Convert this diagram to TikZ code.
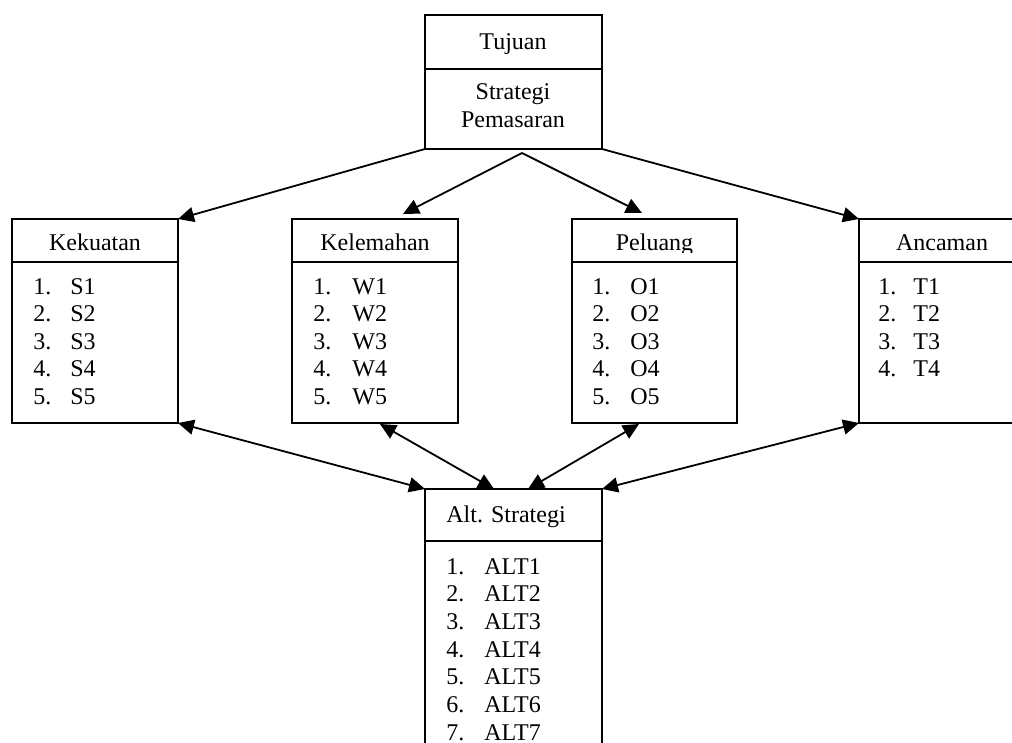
\documentclass[tikz,border=0pt]{standalone}
\usepackage{fontspec}
\setmainfont{Liberation Serif}
\usetikzlibrary{arrows.meta}
\begin{document}
\begin{tikzpicture}[x=0.5pt,y=-0.5pt,
  box/.style={draw,line width=1pt,rectangle,inner sep=0pt,outer sep=0pt,anchor=north west},
  lbl/.style={anchor=base,inner sep=0pt,font=\fontsize{12pt}{13.8pt}\selectfont},
  lbll/.style={lbl,anchor=base west},
  arr/.style={line width=0.9pt,-{Triangle[length=8pt,width=7.5pt]}},
  darr/.style={line width=0.9pt,{Triangle[length=8pt,width=7.5pt]}-{Triangle[length=8pt,width=7.5pt]}}]
\useasboundingbox (0,0) rectangle (1012,743);
\clip (0,0) rectangle (1012,743);
% top box
\node[box,minimum width=88.5pt,minimum height=27pt] (tuj) at (425,15) {};
\node[box,minimum width=88.5pt,minimum height=40pt] (strat) at (425,69) {};
\node[lbl] (tujT) at (513,50) {Tujuan};
\node[lbl] (stratT1) at (513,100) {Strategi};
\node[lbl] (stratT2) at (513,128) {Pemasaran};
% four boxes
\node[box,minimum width=83pt,minimum height=21.5pt] (kekH) at (12,219) {};
\node[box,minimum width=83pt,minimum height=80.5pt] (kekB) at (12,262) {};
\node[box,minimum width=83pt,minimum height=21.5pt] (kelH) at (292,219) {};
\node[box,minimum width=83pt,minimum height=80.5pt] (kelB) at (292,262) {};
\node[box,minimum width=82.5pt,minimum height=21.5pt] (pelH) at (572,219) {};
\node[box,minimum width=82.5pt,minimum height=80.5pt] (pelB) at (572,262) {};
\node[box,minimum width=83pt,minimum height=21.5pt] (ancH) at (859,219) {};
\node[box,minimum width=83pt,minimum height=80.5pt] (ancB) at (859,262) {};
\node[lbl] (kekT) at (95,251) {Kekuatan};
\node[lbl] (kelT) at (375,251) {Kelemahan};
\begin{scope}
\clip (572,219) rectangle (737,253);
\node[lbl] (pelT) at (654.5,251) {Peluang};
\end{scope}
\node[lbl] (ancT) at (942,251) {Ancaman};
\foreach \i in {1,...,5} {
  \node[lbll] (kn\i) at (33,{294+27.6*(\i-1)}) {\i.};
  \node[lbll] (ki\i) at (70,{294+27.6*(\i-1)}) {S\i};
  \node[lbll] (wn\i) at (313,{294+27.6*(\i-1)}) {\i.};
  \node[lbll] (wi\i) at (352,{294+27.6*(\i-1)}) {W\i};
  \node[lbll] (on\i) at (592,{294+27.6*(\i-1)}) {\i.};
  \node[lbll] (oi\i) at (630,{294+27.6*(\i-1)}) {O\i};
}
\foreach \i in {1,...,4} {
  \node[lbll] (tn\i) at (878,{294+27.6*(\i-1)}) {\i.};
  \node[lbll] (ti\i) at (913,{294+27.6*(\i-1)}) {T\i};
}
% bottom box
\node[box,minimum width=88.5pt,minimum height=26pt] (altH) at (425,489) {};
\node[box,minimum width=88.5pt,minimum height=130pt] (altB) at (425,541) {};
\node[lbll] (altT) at (446,522) {Alt. Strategi};
\foreach \i in {1,...,7} {
  \node[lbll] (an\i) at (446,{574+27.7*(\i-1)}) {\i.};
  \node[lbll] (ai\i) at (484,{574+27.7*(\i-1)}) {ALT\i};
}
% connectors
\coordinate (sm) at (522,153);
\coordinate (kelTop) at (403,214);
\coordinate (pelTop) at (642,213);
\coordinate (kelBot) at (380,424);
\coordinate (pelBot) at (639,424);
\coordinate (altL) at (494,489);
\coordinate (altR) at (528,489);
\draw[arr] (strat.south west) -- (kekH.north east);
\draw[arr] (sm) -- (kelTop);
\draw[arr] (sm) -- (pelTop);
\draw[arr] (strat.south east) -- (ancH.north west);
\draw[darr] (kekB.south east) -- (altH.north west);
\draw[darr] (kelBot) -- (altL);
\draw[darr] (pelBot) -- (altR);
\draw[darr] (ancB.south west) -- (altH.north east);
\end{tikzpicture}
\end{document}
